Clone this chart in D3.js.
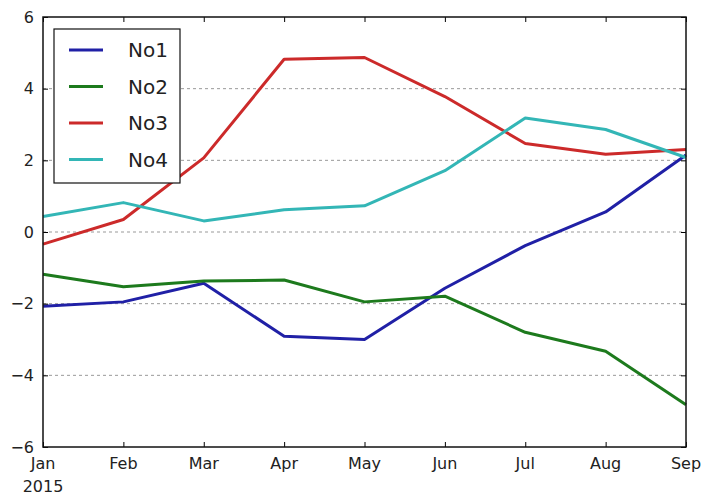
<!DOCTYPE html>
<html>
<head>
<meta charset="utf-8">
<script src="https://cdn.jsdelivr.net/npm/d3@7"></script>
<style>
  body { margin: 0; background: #fff; }
  text { font-family: "DejaVu Sans", sans-serif; }
</style>
</head>
<body>
<div id="chart"></div>
<script>
// data
const months = ["Jan", "Feb", "Mar", "Apr", "May", "Jun", "Jul", "Aug", "Sep"];
const seriesNames = ["No1", "No2", "No3", "No4"];
const no1 = [-2.07, -1.95, -1.43, -2.91, -3.0, -1.57, -0.38, 0.56, 2.15];
const no2 = [-1.18, -1.53, -1.37, -1.34, -1.95, -1.79, -2.8, -3.33, -4.82];
const no3 = [-0.34, 0.35, 2.07, 4.82, 4.87, 3.78, 2.47, 2.17, 2.3];
const no4 = [0.43, 0.82, 0.31, 0.62, 0.73, 1.71, 3.18, 2.86, 2.08];
const yTicks = [-6, -4, -2, 0, 2, 4, 6];
const colors = ["#2020a6", "#1d7a1d", "#cc2a2a", "#33b6b6"];

const values = [no1, no2, no3, no4];

const width = 702, height = 500;
const margin = ({top: 17, right: 16, bottom: 53, left: 43});

const svg = d3.select("#chart")
  .append("svg")
    .attr("width", width)
    .attr("height", height);

const x = d3.scalePoint()
  .domain(months)
  .range([margin.left, width - margin.right]);

const y = d3.scaleLinear()
  .domain([-6, 6])
  .range([height - margin.bottom, margin.top]);

// grid lines (dashed, only inside)
svg.append("g")
  .selectAll("line")
  .data(yTicks.filter(d => d > -6 && d < 6))
  .join("line")
    .attr("x1", margin.left)
    .attr("x2", width - margin.right)
    .attr("y1", d => y(d))
    .attr("y2", d => y(d))
    .attr("stroke", "#999")
    .attr("stroke-width", 1)
    .attr("stroke-dasharray", "3,3");

// lines
const line = d3.line()
  .x((d, i) => x(months[i]))
  .y(d => y(d));

svg.append("g")
  .selectAll("path")
  .data(values)
  .join("path")
    .attr("fill", "none")
    .attr("stroke", (d, i) => colors[i])
    .attr("stroke-width", 3)
    .attr("stroke-linejoin", "round")
    .attr("d", line);

// axes (ticks pointing inward, like matplotlib classic)
const xAxisBottom = g => g
  .attr("transform", `translate(0,${height - margin.bottom})`)
  .call(d3.axisTop(x).tickSize(5).tickFormat(""))
  .call(g => g.select(".domain").remove());

const xAxisTop = g => g
  .attr("transform", `translate(0,${margin.top})`)
  .call(d3.axisBottom(x).tickSize(5).tickFormat(""))
  .call(g => g.select(".domain").remove());

const yAxisLeft = g => g
  .attr("transform", `translate(${margin.left},0)`)
  .call(d3.axisRight(y).tickValues(yTicks).tickSize(5).tickFormat(""))
  .call(g => g.select(".domain").remove());

const yAxisRight = g => g
  .attr("transform", `translate(${width - margin.right},0)`)
  .call(d3.axisLeft(y).tickValues(yTicks).tickSize(5).tickFormat(""))
  .call(g => g.select(".domain").remove());

svg.append("g").call(xAxisBottom);
svg.append("g").call(xAxisTop);
svg.append("g").call(yAxisLeft);
svg.append("g").call(yAxisRight);
svg.selectAll(".tick line").attr("stroke", "#000");

// tick labels
svg.append("g")
    .attr("font-size", 16)
    .attr("fill", "#222")
  .selectAll("text")
  .data(yTicks)
  .join("text")
    .attr("x", margin.left - 9)
    .attr("y", d => y(d))
    .attr("dy", "0.35em")
    .attr("text-anchor", "end")
    .text(d => d < 0 ? "\u2212" + Math.abs(d) : d);

svg.append("g")
    .attr("font-size", 16)
    .attr("fill", "#222")
  .selectAll("text")
  .data(months)
  .join("text")
    .attr("x", d => x(d))
    .attr("y", height - margin.bottom + 22)
    .attr("text-anchor", "middle")
    .text(d => d);

svg.append("text")
  .attr("x", x("Jan"))
  .attr("y", height - margin.bottom + 45)
  .attr("font-size", 16)
  .attr("fill", "#222")
  .attr("text-anchor", "middle")
  .text("2015");

// frame
svg.append("rect")
  .attr("x", margin.left)
  .attr("y", margin.top)
  .attr("width", width - margin.left - margin.right)
  .attr("height", height - margin.top - margin.bottom)
  .attr("fill", "none")
  .attr("stroke", "#111")
  .attr("stroke-width", 1.5);

// legend
const legend = svg.append("g").attr("transform", "translate(54,29)");
legend.append("rect")
  .attr("width", 126)
  .attr("height", 154)
  .attr("fill", "#fff")
  .attr("stroke", "#111")
  .attr("stroke-width", 1.2);

const item = legend.selectAll("g")
  .data(seriesNames)
  .join("g")
    .attr("transform", (d, i) => `translate(0,${21 + i * 36.5})`);

item.append("line")
  .attr("x1", 15).attr("x2", 49)
  .attr("stroke", (d, i) => colors[i])
  .attr("stroke-width", 3);

item.append("text")
  .attr("x", 74)
  .attr("dy", "0.35em")
  .attr("font-size", 20)
  .attr("fill", "#222")
  .text(d => d);
</script>
</body>
</html>
